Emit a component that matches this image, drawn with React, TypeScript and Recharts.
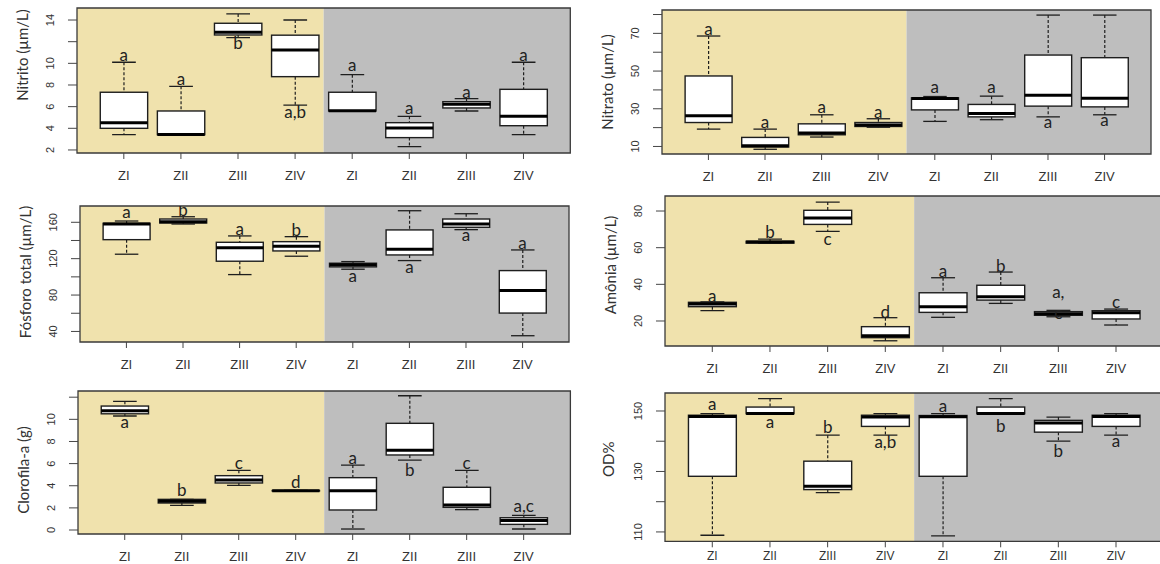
import React from 'react';
import { ComposedChart, Bar, Scatter, XAxis, YAxis, ReferenceArea } from 'recharts';

const ZONES = ['ZI', 'ZII', 'ZIII', 'ZIV'];
const POSITIONS = [1, 2, 3, 4, 5, 6, 7, 8];
const X_DOMAIN: [number, number] = [0.18, 8.82];
const SPLIT = 4.5; // beige / grey boundary

// five-number summaries per box: [min, q1, median, q3, max]
const NITRITO = [
  [3.41, 4.0, 4.52, 7.33, 10.1],
  [3.41, 3.41, 3.43, 5.6, 7.88],
  [12.37, 12.62, 12.87, 13.7, 14.56],
  [6.15, 8.77, 11.23, 12.6, 14.0],
  [5.6, 5.6, 5.62, 7.33, 8.95],
  [2.3, 3.14, 4.03, 4.52, 5.11],
  [5.6, 5.88, 6.22, 6.46, 6.74],
  [3.41, 4.24, 5.11, 7.6, 10.1],
];
const NITRITO_LETTERS = ['a', 'a', 'b', 'a,b', 'a', 'a', 'a', 'a'];
const NITRITO_LETTER_Y = [10.7, 8.46, 11.76, 5.4, 9.76, 5.76, 7.29, 10.7];

const NITRATO = [
  [19.2, 22.7, 26.3, 47.4, 68.6],
  [8.5, 9.7, 10.4, 14.8, 19.2],
  [15, 16.2, 17.1, 22, 26.8],
  [20.2, 20.6, 21.4, 22.7, 24.7],
  [23.3, 29.4, 35.4, 35.8, 36.5],
  [24.2, 25.7, 27.5, 32.3, 36.7],
  [25.7, 31.4, 37.2, 58.5, 79.7],
  [26.8, 31.0, 35.6, 57.1, 79.7],
];
const NITRATO_LETTERS = ['a', 'a', 'a', 'a', 'a', 'a', 'a', 'a'];
const NITRATO_LETTER_Y = [71.7, 22.4, 30.3, 27.7, 40.9, 40.9, 22.4, 23.3];

const FOSFORO = [
  [124.9, 140.9, 158.1, 158.9, 161.4],
  [158.1, 159.2, 160.7, 163.6, 166.1],
  [102.5, 117.2, 132.1, 138, 145],
  [122.7, 128.5, 133.7, 138.7, 144.2],
  [108.4, 111, 113.2, 115, 116.8],
  [117.9, 124.1, 130.4, 151.6, 172.7],
  [151.9, 154.5, 158.1, 163.6, 169.4],
  [35.3, 60.2, 85, 106.9, 129.6],
];
const FOSFORO_LETTERS = ['a', 'b', 'a', 'b', 'a', 'a', 'a', 'a'];
const FOSFORO_LETTER_Y = [169.9, 172.7, 151.6, 150.5, 100.3, 109.5, 145.3, 136.2];

const AMONIA = [
  [25.6, 27.8, 29.3, 30.2, 30.4],
  [62.3, 62.5, 63.1, 63.5, 64.7],
  [68.9, 72.7, 76.2, 80.4, 84.9],
  [9.2, 10.9, 12.0, 16.9, 21.8],
  [22.0, 24.7, 27.8, 35.4, 43.6],
  [29.6, 31.4, 33.2, 39.5, 46.7],
  [22.3, 23.1, 24.0, 25.1, 25.8],
  [17.8, 21.1, 24.5, 25.6, 26.5],
];
const AMONIA_LETTERS = ['a', 'b', 'c', 'd', 'a', 'b', 'a,', 'c', 'c'];
const AMONIA_LETTER_X = [1, 2, 3, 4, 5, 6, 7, 7, 8];
const AMONIA_LETTER_Y = [32.9, 68.2, 64.2, 24.5, 46.9, 49.6, 35.1, 23.8, 29.6];

const CLOROFILA = [
  [10.3, 10.5, 10.78, 11.2, 11.63],
  [2.23, 2.44, 2.59, 2.77, 2.77],
  [4.04, 4.25, 4.52, 4.91, 5.39],
  [3.52, 3.53, 3.55, 3.57, 3.58],
  [0.09, 1.81, 3.55, 4.73, 5.87],
  [6.32, 6.78, 7.2, 9.64, 12.13],
  [1.84, 2.05, 2.26, 3.86, 5.39],
  [0.09, 0.51, 0.87, 1.11, 1.33],
];
const CLOROFILA_LETTERS = ['a', 'b', 'c', 'd', 'a', 'b', 'c', 'a,c'];
const CLOROFILA_LETTER_Y = [9.64, 3.52, 5.96, 4.22, 6.41, 5.36, 5.96, 2.05];

const OD = [
  [108.9, 128.4, 148.2, 148.6, 149.1],
  [149.1, 149.1, 149.2, 151.3, 154.1],
  [123, 124, 125.1, 133.4, 142],
  [142, 144.9, 148, 148.6, 149.1],
  [108.7, 128.4, 148.1, 148.5, 149.1],
  [149.1, 149.1, 149.2, 151.3, 154.1],
  [140, 143, 146, 146.9, 148],
  [142, 144.9, 148.2, 148.6, 149.1],
];
const OD_LETTERS = ['a', 'a', 'b', 'a,b', 'a', 'b', 'b', 'a'];
const OD_LETTER_Y = [151.9, 146, 144.4, 139.4, 151.3, 144.7, 136.4, 139.8];

const BEIGE = '#f0e2ad';
const GREY = '#bebebe';
const INK = '#1e1e1e';

// space around the plot area inside each chart
const L = 72;
const T = 6;
const R = 6;
const B = 34;

const whiskerSpan = (d: any) => (d && d.stats ? [d.stats[0], d.stats[4]] : null);

function BoxShape(props: any) {
  const { x, y, width, height, payload } = props;
  if (x == null || !payload || !payload.stats) return null;
  const [lo, q1, med, q3, hi] = payload.stats;
  const top = height >= 0 ? y : y + height;
  const h = Math.abs(height);
  const span = hi - lo;
  const yOf = (v: number) => (span === 0 ? top : top + (h * (hi - v)) / span);
  const cx = x + width / 2;
  const cap = width / 4;
  return (
    <g>
      <line x1={cx} x2={cx} y1={yOf(hi)} y2={yOf(q3)} stroke={INK} strokeWidth={1.2} strokeDasharray="3 2" />
      <line x1={cx} x2={cx} y1={yOf(q1)} y2={yOf(lo)} stroke={INK} strokeWidth={1.2} strokeDasharray="3 2" />
      <line x1={cx - cap} x2={cx + cap} y1={yOf(hi)} y2={yOf(hi)} stroke={INK} strokeWidth={1.3} />
      <line x1={cx - cap} x2={cx + cap} y1={yOf(lo)} y2={yOf(lo)} stroke={INK} strokeWidth={1.3} />
      <rect x={x} y={yOf(q3)} width={width} height={yOf(q1) - yOf(q3)} fill="#fff" stroke={INK} strokeWidth={1.4} />
      <line x1={x} x2={x + width} y1={yOf(med)} y2={yOf(med)} stroke="#000" strokeWidth={3} />
    </g>
  );
}

function LetterShape(props: any) {
  const { cx, cy, payload } = props;
  if (cx == null || !payload) return null;
  return (
    <text x={cx} y={cy} dy="0.3em" textAnchor="middle" fontSize={17} fontFamily="Lato" fill="#222">
      {payload.text}
    </text>
  );
}

function YTick(props: any) {
  const { x, y, payload, labels } = props;
  if (!payload || !labels.includes(payload.value)) return null;
  const bx = x - 12;
  return (
    <text x={bx} y={y} transform={`rotate(-90 ${bx} ${y})`} textAnchor="middle" fontSize={11} fill="#333" fontFamily="Liberation Sans">
      {payload.value}
    </text>
  );
}

function AxisTitle(props: any) {
  const { tx, ty, text } = props;
  return (
    <text x={tx} y={ty} transform={`rotate(-90 ${tx} ${ty})`} textAnchor="middle" dominantBaseline="central" fontSize={15} fill="#333" fontFamily="Lato">
      {text}
    </text>
  );
}

interface PanelProps {
  left: number;
  top: number;
  width: number;
  height: number;
  yDomain: [number, number];
  yTicks: number[];
  yLabels: number[];
  title: string;
  titleX: number;
  titleY: number;
  stats: number[][];
  letters: string[];
  letterY: number[];
  letterX?: number[];
  xTickMargin?: number;
  xTickFont?: number;
}

function Panel(p: PanelProps) {
  const rows = p.stats.map((s, i) => ({ pos: POSITIONS[i], stats: s }));
  const xs = p.letterX ?? POSITIONS;
  const marks = p.letters.map((t, i) => ({ pos: xs[i], val: p.letterY[i], text: t }));
  const unit = p.width / (X_DOMAIN[1] - X_DOMAIN[0]);
  const chartLeft = p.left - L;
  const chartTop = p.top - T;
  return (
    <div style={{ position: 'absolute', left: chartLeft, top: chartTop }}>
      <ComposedChart
        width={L + p.width + R}
        height={T + p.height + B}
        data={rows}
        margin={{ top: T, right: R, bottom: 0, left: 0 }}
      >
        <XAxis
          type="number"
          dataKey="pos"
          domain={X_DOMAIN}
          ticks={POSITIONS}
          interval={0}
          allowDataOverflow
          height={B}
          tickSize={6}
          tickMargin={p.xTickMargin ?? 12}
          axisLine={false}
          tickLine={{ stroke: '#444' }}
          tick={{ fontSize: p.xTickFont ?? 13, fill: '#333', fontFamily: 'Liberation Sans' }}
          tickFormatter={(v: number) => ZONES[(v - 1) % 4]}
        />
        <YAxis
          type="number"
          domain={p.yDomain}
          ticks={p.yTicks}
          interval={0}
          allowDataOverflow
          width={L}
          tickSize={9}
          axisLine={false}
          tickLine={{ stroke: '#444' }}
          tick={<YTick labels={p.yLabels} />}
          label={<AxisTitle tx={p.titleX - chartLeft} ty={p.titleY - chartTop} text={p.title} />}
        />
        <ReferenceArea x1={X_DOMAIN[0]} x2={SPLIT} y1={p.yDomain[0]} y2={p.yDomain[1]} fill={BEIGE} fillOpacity={1} stroke="none" />
        <ReferenceArea x1={SPLIT} x2={X_DOMAIN[1]} y1={p.yDomain[0]} y2={p.yDomain[1]} fill={GREY} fillOpacity={1} stroke="none" />
        <Bar
          dataKey={whiskerSpan}
          barSize={unit * 0.83}
          shape={<BoxShape />}
          isAnimationActive={false}
        />
        <Scatter data={marks} dataKey="val" shape={<LetterShape />} isAnimationActive={false} />
        <ReferenceArea
          x1={X_DOMAIN[0]}
          x2={X_DOMAIN[1]}
          y1={p.yDomain[0]}
          y2={p.yDomain[1]}
          fill="none"
          stroke="#3a3a3a"
          strokeWidth={1.3}
        />
      </ComposedChart>
    </div>
  );
}

export default function App() {
  return (
    <div style={{ position: 'absolute', left: 0, top: 0, width: 1160, height: 564, overflow: 'hidden', background: '#fff' }}>
      <Panel
        left={77.2} top={8} width={493.3} height={145}
        yDomain={[1.72, 15.11]} yTicks={[2, 4, 6, 8, 10, 12, 14]} yLabels={[2, 4, 6, 8, 10, 14]}
        title="Nitrito (µm/L)" titleX={22} titleY={55}
        stats={NITRITO} letters={NITRITO_LETTERS} letterY={NITRITO_LETTER_Y}
      />
      <Panel
        left={662.3} top={10} width={489} height={144}
        yDomain={[6, 82.4]} yTicks={[10, 20, 30, 40, 50, 60, 70, 80]} yLabels={[10, 30, 50, 70]}
        title="Nitrato (µm/L)" titleX={607} titleY={82}
        stats={NITRATO} letters={NITRATO_LETTERS} letterY={NITRATO_LETTER_Y}
      />
      <Panel
        left={79.6} top={206} width={489} height={136}
        yDomain={[28.4, 177.9]} yTicks={[40, 60, 80, 100, 120, 140, 160]} yLabels={[40, 80, 120, 160]}
        title="Fósforo total (µm/L)" titleX={25} titleY={272}
        stats={FOSFORO} letters={FOSFORO_LETTERS} letterY={FOSFORO_LETTER_Y}
      />
      <Panel
        left={664.7} top={196} width={498.3} height={150}
        yDomain={[6.35, 88.2]} yTicks={[20, 40, 60, 80]} yLabels={[20, 40, 60, 80]}
        title="Amônia (µm/L)" titleX={610} titleY={265}
        stats={AMONIA} letters={AMONIA_LETTERS} letterX={AMONIA_LETTER_X} letterY={AMONIA_LETTER_Y}
      />
      <Panel
        left={78.3} top={391} width={492.4} height={143}
        yDomain={[-0.36, 12.56]} yTicks={[0, 2, 4, 6, 8, 10, 12]} yLabels={[0, 2, 4, 6, 8, 10]}
        title="Clorofila-a (g)" titleX={23} titleY={470}
        stats={CLOROFILA} letters={CLOROFILA_LETTERS} letterY={CLOROFILA_LETTER_Y}
      />
      <Panel
        left={664.7} top={392.7} width={498.3} height={148.3}
        yDomain={[106.9, 155.95]} yTicks={[110, 120, 130, 140, 150]} yLabels={[110, 130, 150]}
        title="OD%" titleX={608} titleY={459}
        stats={OD} letters={OD_LETTERS} letterY={OD_LETTER_Y}
        xTickMargin={4} xTickFont={12}
      />
    </div>
  );
}
